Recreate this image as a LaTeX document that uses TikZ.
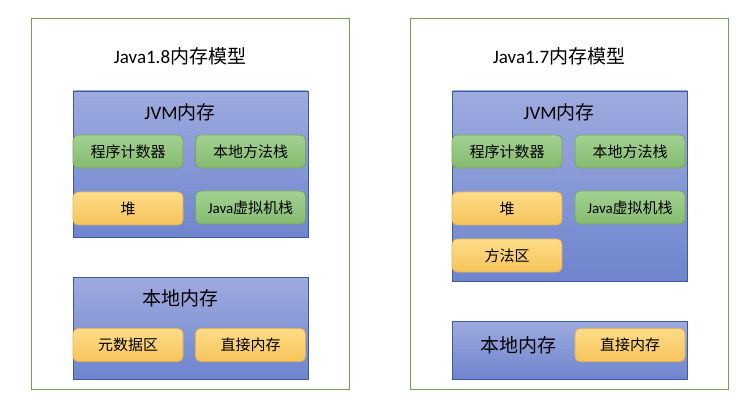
\documentclass[tikz,border=0pt]{standalone}
\usepackage{fontspec}
\setmainfont{Carlito}
\newfontfamily\cjk{Noto Sans CJK SC}
\usetikzlibrary{positioning}

\definecolor{frameline}{HTML}{6F9E52}
\definecolor{arealine}{HTML}{3D5A9C}
\definecolor{areatop}{HTML}{9EABDF}
\definecolor{areabot}{HTML}{6E84CD}
\definecolor{greenline}{HTML}{74A85E}
\definecolor{greentop}{HTML}{A3D191}
\definecolor{greenbot}{HTML}{86BB70}
\definecolor{orangeline}{HTML}{E0B35A}
\definecolor{orangetop}{HTML}{FEDC88}
\definecolor{orangebot}{HTML}{F6C45A}

\tikzset{
  frame/.style={draw=frameline,line width=0.8pt,inner sep=0pt,minimum width=318pt,minimum height=371pt},
  memarea/.style={draw=arealine,line width=0.9pt,top color=areatop,bottom color=areabot,inner sep=0pt,minimum width=235pt},
  cell/.style={rounded corners=5pt,line width=0.8pt,inner sep=0pt,minimum width=110pt,minimum height=33pt,font=\cjk\fontsize{15}{18}\selectfont},
  greencell/.style={cell,draw=greenline,top color=greentop,bottom color=greenbot},
  orangecell/.style={cell,draw=orangeline,top color=orangetop,bottom color=orangebot},
  bigtext/.style={font=\cjk\fontsize{19}{22}\selectfont,inner sep=0pt}
}

\begin{document}
\begin{tikzpicture}[x=1pt,y=-1pt]
  \useasboundingbox (0,0) rectangle (755,406);
  \fill[white] (0,0) rectangle (755,406);

  % Java 1.8
  \node[frame] (f8) at (190,203.5) {};
  \node[bigtext] (t8) at (180,56) {{\rmfamily Java1.8}内存模型};
  \node[memarea,minimum height=146pt] (jvm8) at (190.5,164) {};
  \node[bigtext] (jvmt8) at (180,112) {{\rmfamily JVM}内存};
  \node[greencell] (pc8) at (128,151.5) {程序计数器};
  \node[greencell] (ns8) at (250.5,151.5) {本地方法栈};
  \node[orangecell] (heap8) at (128,208.5) {堆};
  \node[greencell] (vs8) at (250.5,207.5) {{\rmfamily Java}虚拟机栈};
  \node[memarea,minimum height=102pt] (nat8) at (190.5,328) {};
  \node[bigtext] (natt8) at (180,298) {本地内存};
  \node[orangecell] (meta8) at (128,345) {元数据区};
  \node[orangecell] (dm8) at (250.5,345) {直接内存};

  % Java 1.7
  \node[frame] (f7) at (569,203.5) {};
  \node[bigtext] (t7) at (559,56) {{\rmfamily Java1.7}内存模型};
  \node[memarea,minimum height=190pt] (jvm7) at (570,186) {};
  \node[bigtext] (jvmt7) at (559,112) {{\rmfamily JVM}内存};
  \node[greencell] (pc7) at (507,151.5) {程序计数器};
  \node[greencell] (ns7) at (630,151.5) {本地方法栈};
  \node[orangecell] (heap7) at (507,208.5) {堆};
  \node[greencell] (vs7) at (630,207.5) {{\rmfamily Java}虚拟机栈};
  \node[orangecell] (ma7) at (507,255.5) {方法区};
  \node[memarea,minimum height=58pt] (nat7) at (570,350) {};
  \node[bigtext] (natt7) at (518,345) {本地内存};
  \node[orangecell] (dm7) at (630,345) {直接内存};
\end{tikzpicture}
\end{document}
